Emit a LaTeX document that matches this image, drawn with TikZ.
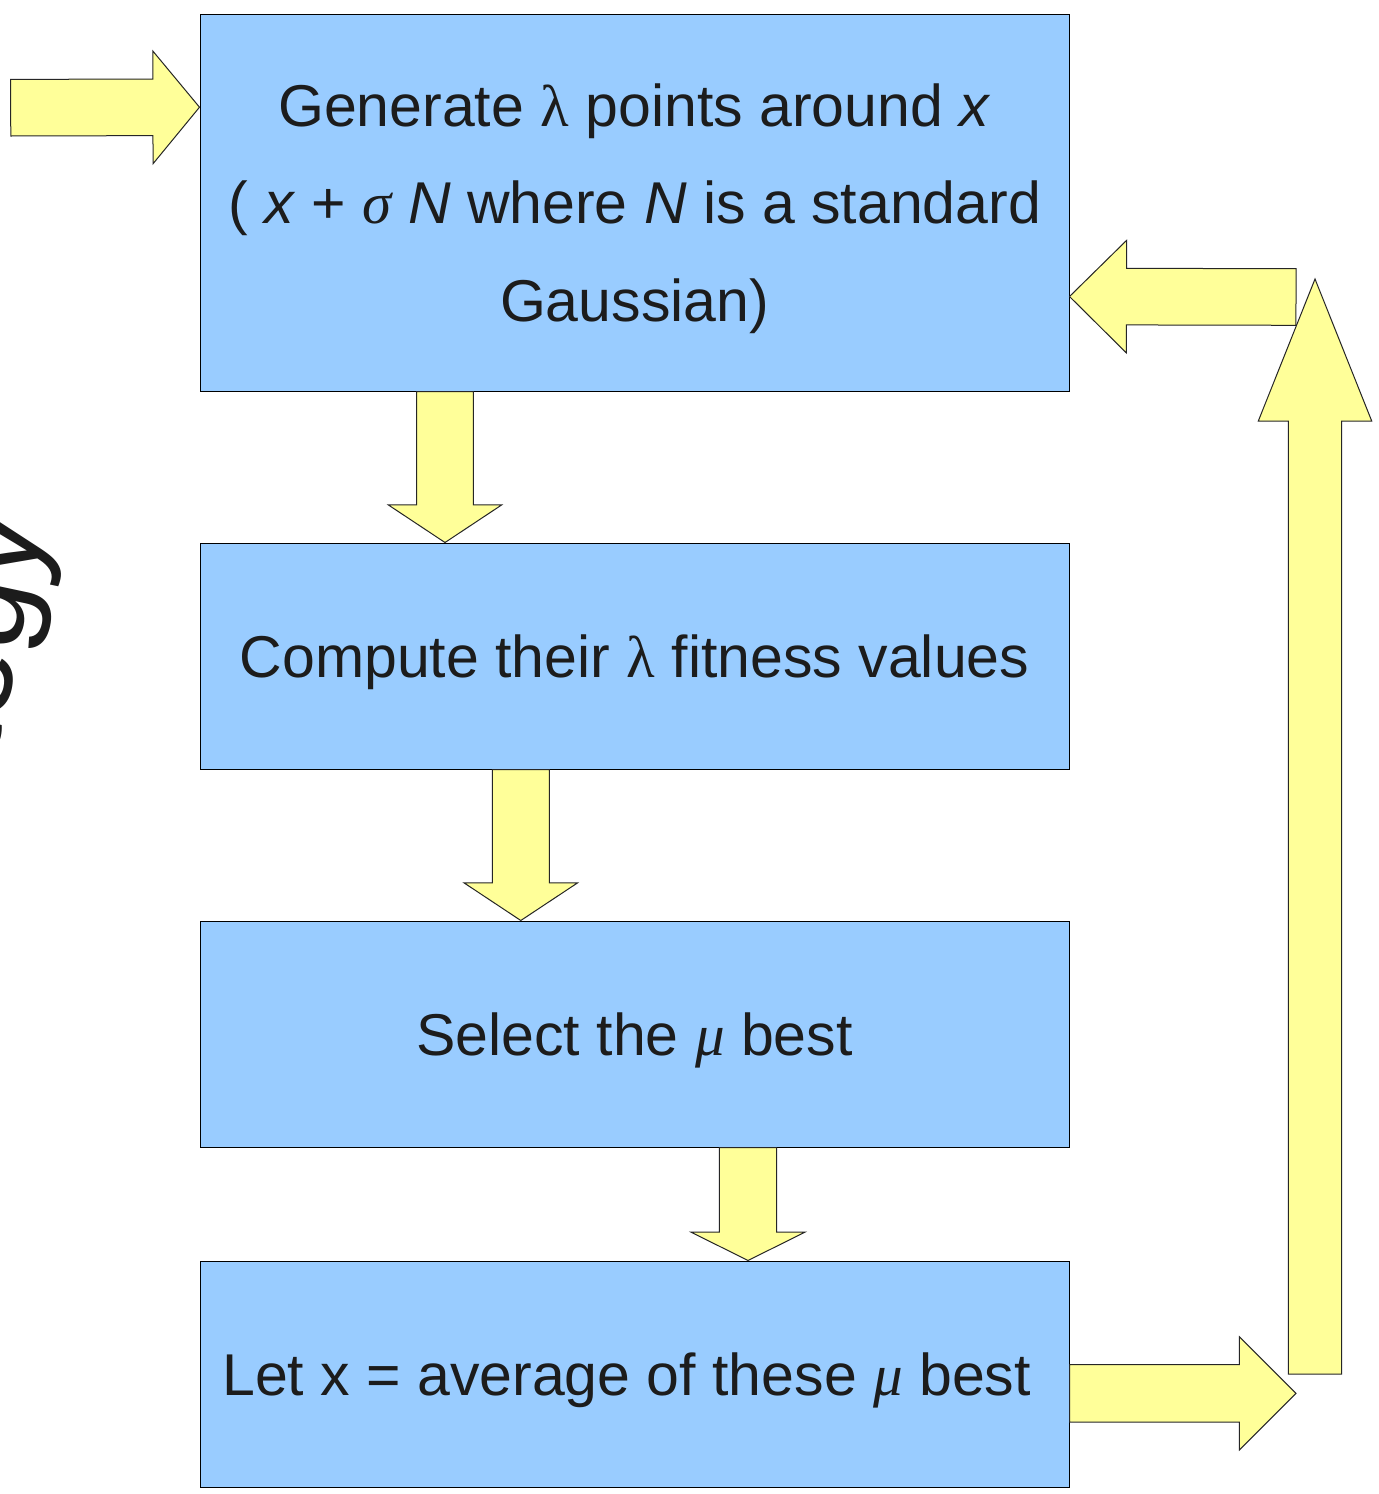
\documentclass[tikz,border=0pt]{standalone}
\usepackage{fontspec}
\setmainfont{Liberation Sans}
\newfontfamily\greekfont{Liberation Serif}
\usetikzlibrary{calc}

\definecolor{boxblue}{RGB}{153,204,255}
\definecolor{arrowyellow}{RGB}{255,255,153}
\definecolor{ink}{RGB}{28,28,28}

% Greek letters set in a serif face
\newcommand\glam{{\greekfont λ}}
\newcommand\gsig{{\greekfont\itshape σ}}
\newcommand\gmu{{\greekfont\itshape μ}}

% Block arrow from #1 to the tip #2: shaft half width #3, head half width #4, head length #5
\newcommand\blockarr[5]{%
  \coordinate (hb) at ($(#2)!#5!(#1)$);
  \draw[flowarrow]
    ($(#1)!#3!90:(#2)$) -- ($(hb)!#3!-90:(#1)$) -- ($(hb)!#4!-90:(#1)$)
    -- (#2)
    -- ($(hb)!#4!90:(#1)$) -- ($(hb)!#3!90:(#1)$) -- ($(#1)!#3!-90:(#2)$) -- cycle;
}

\tikzset{
  stepbox/.style={draw=black, line width=0.5pt, fill=boxblue, rectangle,
    minimum width=434.5pt, inner sep=0pt, align=center, text=ink,
    font=\fontsize{29.5}{48.75}\selectfont},
  steptext/.style={inner sep=0pt, align=center, text=ink,
    font=\fontsize{29.5}{48.75}\selectfont},
  flowarrow/.style={draw=black!85, line width=0.5pt, fill=arrowyellow, line join=miter},
}

\begin{document}
\begin{tikzpicture}[x=0.5pt, y=-0.5pt]
  \useasboundingbox (0,0) rectangle (1379,1494);
  \fill[white] (0,0) rectangle (1379,1494);

  % side title, mostly outside the page
  \begin{scope}
    \clip (0,0) rectangle (1379,1494);
    \node[rotate=78, anchor=base east, inner sep=0pt, text=ink,
          font=\fontsize{64}{70}\selectfont] (title) at (46,522) {Strategy};
  \end{scope}

  % process steps
  \node[stepbox, minimum height=188.5pt] (b1) at (634.5,202.5) {};
  \node[stepbox, minimum height=113pt] (b2) at (634.5,656) {};
  \node[stepbox, minimum height=113pt] (b3) at (634.5,1034) {};
  \node[stepbox, minimum height=113pt] (b4) at (634.5,1374) {};

  \node[steptext] (t1) at ($(b1.center)+(0,6)$)
    {Generate \glam{} points around \textit{x}\\
     ( \textit{x} + \gsig{} \textit{N} where \textit{N} is a standard\\
     Gaussian)};
  \node[steptext] (t2) at ($(b2.center)+(0,6)$) {Compute their \glam{} fitness values};
  \node[steptext] (t3) at ($(b3.center)+(0,6)$) {Select the \gmu{} best};
  \node[steptext] (t4) at ($(b4.center)+(-8,6)$) {Let x = average of these \gmu{} best};

  % input arrow
  \coordinate (in) at (10.7,107.7);
  \coordinate (inTip) at ($(b1.north west)+(0,93.7)$);
  \blockarr{in}{inTip}{14.15pt}{28.2pt}{23.3pt}

  % arrows between the steps
  \coordinate (d1s) at ($(b1.south)+(-189.5,0)$);
  \coordinate (d1t) at ($(b2.north)+(-189.5,0)$);
  \blockarr{d1s}{d1t}{14.15pt}{28.35pt}{18.8pt}

  \coordinate (d2s) at ($(b2.south)+(-113.7,0)$);
  \coordinate (d2t) at ($(b3.north)+(-113.7,0)$);
  \blockarr{d2s}{d2t}{14.25pt}{28.35pt}{18.8pt}

  \coordinate (d3s) at ($(b3.south)+(113.5,0)$);
  \coordinate (d3t) at ($(b4.north)+(113.5,0)$);
  \blockarr{d3s}{d3t}{14.35pt}{28.5pt}{14.2pt}

  % feedback loop back to the first step
  \coordinate (rs) at ($(b4.east)+(0,19.3)$);
  \coordinate (rt) at (1296,1393.3);
  \blockarr{rs}{rt}{14.35pt}{28.3pt}{28.3pt}

  \coordinate (us) at (1315,1374);
  \coordinate (ut) at (1315,279);
  \blockarr{us}{ut}{13.35pt}{28.35pt}{71pt}

  \coordinate (ls) at (1296,297);
  \coordinate (lt) at ($(b1.north east)+(0,283)$);
  \blockarr{ls}{lt}{14.15pt}{28.15pt}{28.5pt}
\end{tikzpicture}
\end{document}
